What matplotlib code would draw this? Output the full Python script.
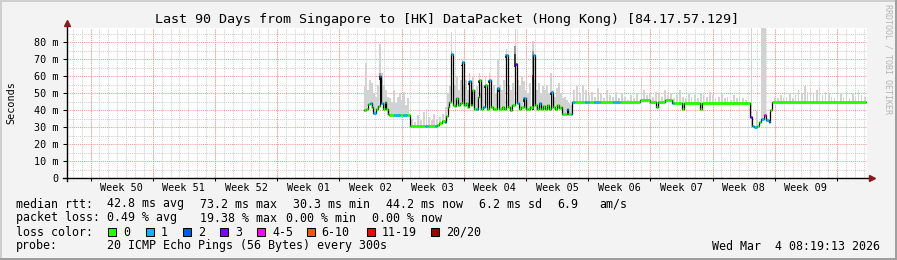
import numpy as np
import matplotlib
matplotlib.use("Agg")
import matplotlib.pyplot as plt
from matplotlib.collections import LineCollection
from matplotlib.patches import Rectangle

plt.rcParams['font.family'] = ['DejaVu Sans Mono']

W, H = 897, 260

title = "Last 90 Days from Singapore to [HK] DataPacket (Hong Kong) [84.17.57.129]"

# time axis: days after Thu Dec 4 08:19 2025 (90 days shown)
first_midnight = 0.653
first_sunday = 2.653
week_names = ["Week 50", "Week 51", "Week 52", "Week 01", "Week 02", "Week 03",
              "Week 04", "Week 05", "Week 06", "Week 07", "Week 08", "Week 09"]

yticks = [0, 10, 20, 30, 40, 50, 60, 70, 80]
ytick_labels = ["0", "10 m", "20 m", "30 m", "40 m", "50 m", "60 m", "70 m", "80 m"]

loss_colors = ['#26ff00', '#00b8ff', '#0059ff', '#7e00ff', '#ff00ff', '#ff5500', '#ff0000', '#a10000']
loss_labels = ['0', '1', '2', '3', '4-5', '6-10', '11-19', '20/20']

# median rtt (ms), step changes
med_t = [33.41, 33.64, 33.86, 34.09, 34.31, 34.48, 34.76, 34.99, 35.21, 35.38,
         35.55, 35.78, 35.94, 36.11, 36.23, 36.79, 37.46, 37.80, 38.25, 38.59,
         40.28, 40.61, 41.40, 41.63, 41.85, 42.19, 42.53, 42.69, 42.86, 43.03,
         43.26, 43.48, 43.65, 43.82, 43.99, 44.21, 44.44, 44.66, 44.89, 45.11,
         45.28, 45.45, 45.62, 45.79, 46.01, 46.24, 46.41, 46.58, 46.86, 47.08,
         47.31, 47.53, 47.70, 47.93, 48.15, 48.41, 48.60, 48.94, 49.16, 49.44,
         49.67, 49.84, 50.06, 50.40, 50.63, 50.85, 51.08, 51.41, 51.64, 51.86,
         52.09, 52.46, 52.65, 52.88, 53.10, 53.33, 53.55, 53.78, 54.00, 54.23,
         54.45, 54.68, 54.90, 55.13, 55.35, 55.58, 55.74, 56.25, 56.42, 56.70,
         56.87, 57.15, 58.28, 58.73, 59.29, 59.96, 61.43, 62.21, 64.46, 65.59,
         66.32, 66.54, 67.28, 68.06, 68.29, 69.24, 69.47, 71.21, 71.44, 76.84,
         77.06, 77.29, 77.63, 77.85, 78.13, 78.41, 78.69, 79.00, 79.14, 79.31]
med_v = [40.0, 41.0, 43.5, 44.5, 42.0, 38.5, 41.0, 42.5, 60.0, 44.0,
         41.0, 45.0, 40.5, 38.0, 37.4, 37.4, 37.4, 37.4, 37.4, 30.7,
         30.7, 30.7, 30.7, 31.5, 32.5, 33.5, 33.0, 36.5, 42.0, 45.0,
         73.0, 43.0, 42.5, 47.0, 43.0, 44.0, 68.5, 43.0, 44.0, 42.0,
         57.0, 43.0, 52.0, 41.0, 41.0, 48.0, 58.0, 41.0, 42.0, 55.0,
         40.5, 58.0, 42.0, 41.0, 40.5, 53.0, 41.0, 42.0, 41.0, 72.5,
         42.0, 40.0, 43.0, 67.5, 44.0, 41.0, 42.0, 47.0, 41.0, 40.5,
         42.0, 72.5, 43.0, 41.0, 44.0, 41.0, 42.5, 40.5, 43.0, 41.0,
         51.0, 42.0, 41.0, 43.0, 41.5, 42.0, 38.0, 40.5, 38.0, 38.0,
         44.8, 44.8, 44.8, 44.8, 44.8, 44.8, 44.8, 44.8, 45.8, 44.8,
         42.0, 44.8, 45.8, 44.3, 44.3, 41.0, 44.3, 40.5, 44.3, 36.0,
         31.0, 30.0, 30.5, 33.0, 35.0, 37.4, 34.4, 33.0, 40.0, 44.8]
med_loss = [0, 0, 0, 1, 0, 1, 0, 0, 1, 1,
            0, 0, 0, 0, 0, 1, 0, 1, 0, 0,
            1, 0, 1, 0, 0, 0, 1, 0, 0, 0,
            1, 0, 0, 0, 0, 0, 1, 0, 0, 0,
            1, 0, 0, 0, 1, 0, 0, 0, 1, 0,
            0, 1, 0, 0, 0, 1, 0, 0, 0, 1,
            0, 0, 0, 3, 1, 0, 0, 1, 0, 0,
            0, 1, 0, 0, 1, 0, 0, 0, 0, 0,
            1, 0, 0, 0, 0, 0, 0, 1, 0, 1,
            1, 0, 1, 0, 1, 0, 1, 0, 0, 0,
            0, 0, 0, 1, 0, 0, 0, 0, 0, 3,
            1, 1, 0, 0, 1, 4, 1, 1, 0, 0]
t_end = 89.9

# smoke: highest ping of each sample (ms)
smoke_t = [33.47, 33.64, 33.86, 34.09, 34.31, 34.54, 34.76, 34.99, 35.21, 35.44,
           35.66, 35.89, 36.11, 36.34, 36.56, 36.79, 37.01, 37.24, 37.46, 37.69,
           37.91, 38.14, 38.36, 38.81, 39.15, 39.49, 39.83, 40.16, 40.44, 40.73,
           41.06, 41.29, 41.63, 41.96, 42.30, 42.64, 42.86, 43.09, 43.26, 43.48,
           43.65, 43.88, 44.10, 44.33, 44.49, 44.66, 44.89, 45.11, 45.28, 45.51,
           45.68, 45.90, 46.13, 46.41, 46.58, 46.80, 47.08, 47.31, 47.53, 47.76,
           48.04, 48.26, 48.49, 48.71, 48.94, 49.16, 49.44, 49.73, 49.95, 50.18,
           50.46, 50.74, 50.96, 51.19, 51.41, 51.64, 51.86, 52.09, 52.43, 52.65,
           52.88, 53.10, 53.33, 53.55, 53.78, 54.00, 54.23, 54.45, 54.68, 54.90,
           55.13, 55.35, 55.58, 55.80, 56.03, 56.25, 56.48, 56.70, 57.04, 57.38,
           57.71, 58.05, 58.39, 58.73, 59.06, 59.40, 59.74, 60.08, 60.41, 60.75,
           61.09, 61.43, 61.76, 62.10, 62.44, 62.78, 63.11, 63.45, 63.79, 64.13,
           64.63, 64.91, 65.25, 65.59, 65.93, 66.26, 66.60, 66.94, 67.28, 67.61,
           67.95, 68.29, 68.63, 68.96, 69.30, 69.64, 69.98, 70.31, 70.65, 70.99,
           71.33, 71.66, 72.00, 72.34, 72.68, 73.01, 73.35, 73.69, 74.03, 74.36,
           74.70, 75.04, 75.38, 75.71, 76.05, 76.39, 77.06, 77.63, 78.24, 78.41,
           78.58, 79.65, 79.99, 80.33, 80.66, 81.00, 81.34, 81.68, 82.01, 82.35,
           82.69, 83.03, 83.36, 83.70, 84.04, 84.38, 84.71, 85.05, 85.39, 85.73,
           86.06, 86.40, 86.74, 87.08, 87.41, 87.75, 88.09, 88.43, 88.76, 89.10,
           89.44, 89.78]
smoke_hi = [54, 68, 52, 58, 56, 50, 48, 55, 79, 62,
            55, 52, 48, 47, 45, 52, 44, 48, 50, 46,
            51, 43, 47, 35, 33, 37, 34, 39, 41, 36,
            34, 38, 35, 36, 38, 42, 50, 54, 86, 62,
            55, 60, 52, 58, 70, 55, 58, 52, 62, 57,
            60, 52, 54, 62, 50, 55, 60, 50, 62, 52,
            55, 50, 70, 55, 52, 58, 76, 55, 52, 56,
            88, 58, 55, 60, 57, 52, 50, 56, 81, 58,
            52, 56, 50, 54, 52, 55, 50, 62, 52, 48,
            53, 56, 50, 47, 48, 46, 44, 43, 52, 54,
            50, 55, 52, 49, 51, 48, 53, 50, 47, 52,
            49, 48, 51, 47, 50, 48, 46, 49, 47, 50,
            60, 52, 49, 50, 48, 51, 50, 48, 52, 49,
            50, 47, 49, 52, 48, 47, 50, 48, 49, 47,
            50, 49, 48, 51, 49, 47, 48, 50, 47, 48,
            46, 49, 47, 48, 47, 46, 90, 40, 90, 90,
            90, 48, 47, 49, 47, 48, 50, 47, 49, 52,
            50, 54, 51, 53, 50, 52, 54, 49, 51, 50,
            48, 47, 53, 50, 48, 49, 47, 50, 48, 52,
            49, 48]

# dark core of the smoke around the spikes
dark_t = [35.21, 43.26, 44.49, 45.28, 46.41, 47.08, 47.53, 48.49, 49.44, 50.46, 51.41, 52.43, 54.45]
dark_hi = [62, 75, 66, 57, 58, 55, 58, 53, 73, 78, 48, 75, 51]

# legend texts, each with its left edge in pixels
row1 = [(16, "median rtt:"), (107.3, "42.8 ms avg"), (200, "73.2 ms max"), (293.3, "30.3 ms min"),
        (386.7, "44.2 ms now"), (479, "6.2 ms sd"), (557.7, "6.9"), (600, "am/s")]
row2 = [(16, "packet loss:"), (107.3, "0.49 % avg"), (200, "19.38 % max"),
        (286.7, "0.00 % min"), (372.7, "0.00 % now")]
row4 = [(16, "probe:"), (107.3, "20 ICMP Echo Pings (56 Bytes) every 300s")]
stamp = "Wed Mar  4 08:19:13 2026"

fig = plt.figure(figsize=(W / 100, H / 100), dpi=100, facecolor='#f3f3f3')
ax = fig.add_axes([67 / W, (H - 178.3) / H, 799.7 / W, 150.8 / H])
ax.set_facecolor('white')
ax.set_xlim(0, 90)
ax.set_ylim(0, 88.7)
for s in ax.spines.values():
    s.set_visible(False)

# grid
dot = (0, (1, 1))
days = np.arange(first_midnight, 90, 1.0)
weeks = np.arange(first_sunday, 90, 7.0)
ax.vlines(days, 0, 88.7, colors='#cfcfcf', linestyles=dot, lw=0.75, zorder=0)
ax.vlines(weeks, 0, 88.7, colors='#f09a9a', linestyles=dot, lw=0.75, zorder=0.2)
ax.hlines(np.arange(5, 89, 10), 0, 90, colors='#cfcfcf', linestyles=dot, lw=0.75, zorder=0)
ax.hlines(yticks[1:], 0, 90, colors='#f09a9a', linestyles=dot, lw=0.75, zorder=0.2)

# smoke
med_t_a = np.array(med_t)
med_v_a = np.array(med_v)
idx = np.clip(np.searchsorted(med_t_a, smoke_t, side='right') - 1, 0, None)
base = med_v_a[idx] - 1.0
ax.bar(smoke_t, np.array(smoke_hi) - base, bottom=base, width=0.17,
       color='#d2d2d2', lw=0, zorder=1)
idx = np.clip(np.searchsorted(med_t_a, dark_t, side='right') - 1, 0, None)
dbase = med_v_a[idx] - 2.0
dh = np.array(dark_hi) - dbase
ax.bar(dark_t, dh, bottom=dbase, width=0.2, color='#9a9a9a', lw=0, zorder=1.5)
ax.bar(dark_t, dh * 0.6, bottom=dbase, width=0.2, color='#3a3a3a', lw=0, zorder=1.6)

# median line
tt = np.append(med_t_a, t_end)
vv = np.append(med_v_a, med_v_a[-1])
ax.step(tt, vv, where='post', color='black', lw=0.9, zorder=3)
segs = [[(tt[i], med_v[i]), (tt[i + 1], med_v[i])] for i in range(len(med_v))]
lc = LineCollection(segs, colors=[loss_colors[l] for l in med_loss],
                    linewidths=2.0, capstyle='butt', zorder=4)
ax.add_collection(lc)

# axes with arrows
ax.plot([-0.45, 90.4], [0, 0], color='black', lw=1, clip_on=False, zorder=5)
ax.plot([90.6], [0], marker='>', ms=4, color='#8b1a1a', clip_on=False, zorder=6)
ax.plot([0, 0], [-1.8, 90.5], color='black', lw=1, clip_on=False, zorder=5)
ax.plot([0], [91.3], marker='^', ms=4, color='#8b1a1a', clip_on=False, zorder=6)

ax.set_xticks(weeks)
ax.set_xticklabels([])
ax.set_xticks(weeks[:-1] + 3.5, minor=True)
ax.set_xticklabels(week_names, minor=True)
ax.tick_params(axis='x', which='major', length=2, width=0.75, direction='out')
ax.tick_params(axis='x', which='minor', length=0, pad=3.5, labelsize=7.3)
ax.set_yticks(yticks)
ax.set_yticklabels(ytick_labels)
ax.tick_params(axis='y', length=3, width=0.75, pad=3, labelsize=7.3)

fig.text(11 / W, 1 - 102.5 / H, "Seconds", rotation=90, ha='center', va='center', fontsize=7.3)
fig.text(447 / W, 1 - 19 / H, title, ha='center', va='center', fontsize=9.6)
fig.text(888 / W, 1 - 4 / H, "RRDTOOL / TOBI OETIKER", rotation=270, ha='center', va='top',
         fontsize=6, color='#b4b4b4')

# legend
fs = 8.4
for y, row in [(204, row1), (218, row2), (246, row4)]:
    for x, s in row:
        fig.text((x - 0.5) / W, 1 - y / H, s, fontsize=fs, va='center')
fig.text(15.5 / W, 1 - 232 / H, "loss color:", fontsize=fs, va='center')
box_x = [108.3, 145.7, 182.7, 220, 257, 306.7, 366.7, 430.7]
for bx, c, lab in zip(box_x, loss_colors, loss_labels):
    fig.add_artist(Rectangle((bx / W, (H - 236) / H), 8 / W, 8 / H, transform=fig.transFigure,
                             facecolor=c, edgecolor='black', lw=0.75))
    fig.text((bx + 15) / W, 1 - 232 / H, lab, fontsize=fs, va='center')
fig.text(880 / W, 1 - 246 / H, stamp, fontsize=fs, va='center', ha='right')

# frame shading
fig.add_artist(Rectangle((0, (H - 2) / H), 1, 2 / H, transform=fig.transFigure, color='#cfcfcf', lw=0))
fig.add_artist(Rectangle((0, 0), 2 / W, 1, transform=fig.transFigure, color='#cfcfcf', lw=0))
fig.add_artist(Rectangle((0, 0), 1, 2 / H, transform=fig.transFigure, color='#9f9f9f', lw=0))
fig.add_artist(Rectangle(((W - 2) / W, 0), 2 / W, 1, transform=fig.transFigure, color='#9f9f9f', lw=0))

fig.savefig("out.png", dpi=100, facecolor=fig.get_facecolor())
